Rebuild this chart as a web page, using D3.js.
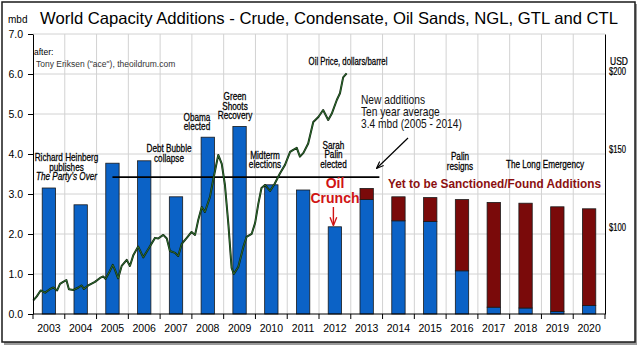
<!DOCTYPE html>
<html lang="en">
<head>
<meta charset="UTF-8">
<title>World Capacity Additions</title>
<style>
  body { margin: 0; background: #fff; }
  svg { display: block; }
  text { font-family: "Liberation Sans", Arial, sans-serif; }
</style>
</head>
<body>
<svg></svg>
<script src="https://d3js.org/d3.v7.min.js"></script>
<script>
// capacity additions, million barrels per day
const years = ["2003", "2004", "2005", "2006", "2007", "2008", "2009", "2010", "2011",
  "2012", "2013", "2014", "2015", "2016", "2017", "2018", "2019", "2020"];
const sanctioned = [3.15, 2.73, 3.77, 3.83, 2.93, 4.42, 4.69, 3.23, 3.10,
  2.18, 2.86, 2.33, 2.31, 1.08, 0.17, 0.15, 0.06, 0.21];
const yetToFind = [0, 0, 0, 0, 0, 0, 0, 0, 0,
  0, 0.28, 0.60, 0.60, 1.78, 2.62, 2.62, 2.62, 2.42];

// oil price, dollars per barrel (right axis)
const priceTime = [2003.01, 2003.12, 2003.24, 2003.38, 2003.53, 2003.64, 2003.76, 2003.85, 2003.95,
  2004.05, 2004.13, 2004.27, 2004.43, 2004.53, 2004.60, 2004.74, 2004.95, 2005.11, 2005.21,
  2005.28, 2005.42, 2005.51, 2005.58, 2005.68, 2005.79, 2005.95, 2006.05, 2006.16, 2006.31,
  2006.47, 2006.63, 2006.84, 2006.94, 2007.10, 2007.21, 2007.31, 2007.47, 2007.57, 2007.68,
  2007.84, 2007.99, 2008.10, 2008.20, 2008.31, 2008.41, 2008.57, 2008.67, 2008.83, 2008.94,
  2009.04, 2009.15, 2009.25, 2009.32, 2009.46, 2009.62, 2009.72, 2009.88, 2009.99, 2010.09,
  2010.19, 2010.30, 2010.46, 2010.61, 2010.77, 2010.93, 2011.09, 2011.19, 2011.30, 2011.40,
  2011.51, 2011.66, 2011.82, 2011.98, 2012.13, 2012.29, 2012.40, 2012.56, 2012.66, 2012.76,
  2012.87];
const priceUsd = [53.2, 55.8, 59.6, 58.2, 60.4, 61.5, 59.6, 63.8, 65.1,
  66.3, 60.3, 59.9, 61.5, 62.8, 60.6, 62.8, 65.1, 67.6, 68.6,
  67.0, 72.1, 76.0, 72.8, 67.4, 75.3, 79.2, 75.3, 82.4, 87.7,
  80.8, 86.2, 93.3, 92.9, 95.2, 92.9, 84.9, 83.7, 81.7, 89.4,
  93.3, 97.1, 95.2, 104.8, 113.1, 109.9, 119.6, 130.4, 146.5, 140.7,
  127.2, 101.6, 74.0, 70.2, 74.7, 87.5, 93.9, 95.8, 102.9, 115.1,
  125.3, 127.2, 123.4, 128.2, 134.6, 140.1, 148.4, 149.7, 151.0, 145.4,
  147.8, 153.8, 167.6, 170.8, 175.3, 168.9, 172.8, 181.7, 186.0, 196.2,
  198.8];

const mbdTicks = [0, 1, 2, 3, 4, 5, 6, 7];
const usdTicks = [100, 150, 200];

const width = 640, height = 347;
const plotLeft = 33, plotRight = 605, plotTop = 34, plotBottom = 314;

const svg = d3.select("svg").attr("width", width).attr("height", height);

svg.append("defs").selectAll("marker")
  .data([["arrowBlack", "#000"], ["arrowRed", "#d01414"]])
  .join("marker")
  .attr("id", d => d[0])
  .attr("viewBox", "0 0 10 10")
  .attr("refX", 9).attr("refY", 5)
  .attr("markerWidth", 6).attr("markerHeight", 6)
  .attr("orient", "auto")
  .append("path")
  .attr("d", "M0,1L10,5L0,9")
  .attr("fill", "none")
  .attr("stroke", d => d[1])
  .attr("stroke-width", 1.6);

// outer frame with a soft drop shadow
svg.append("rect").attr("x", 4).attr("y", 4).attr("width", 633).attr("height", 341)
  .attr("fill", "#9a9a9a");
svg.append("rect").attr("x", 2).attr("y", 2).attr("width", 633).attr("height", 340)
  .attr("fill", "#fff").attr("stroke", "#1a1a1a").attr("stroke-width", 1.5);

const x = d3.scaleBand().domain(years).range([plotLeft, plotRight]);
const xTime = d3.scaleLinear().domain([2003, 2021]).range([plotLeft, plotRight]);
const y = d3.scaleLinear().domain([0, 7]).range([plotBottom, plotTop]);
const yUsd = d3.scaleLinear().domain([44.5, 224]).range([plotBottom, plotTop]);

// grid
svg.append("g").selectAll("line").data(mbdTicks.slice(1)).join("line")
  .attr("x1", plotLeft).attr("x2", plotRight)
  .attr("y1", d => y(d)).attr("y2", d => y(d))
  .attr("stroke", "#d2d2d2");
svg.append("g").selectAll("line").data(years.slice(1)).join("line")
  .attr("x1", d => x(d)).attr("x2", d => x(d))
  .attr("y1", plotTop).attr("y2", plotBottom)
  .attr("stroke", "#d2d2d2");

// bars
const barW = x.step() * 0.42;
const barX = d => x(d) + (x.step() - barW) / 2;
const bars = svg.append("g").attr("stroke", "#1a1a1a").attr("stroke-width", 0.8);
bars.selectAll(".blue").data(years).join("rect")
  .attr("x", barX).attr("width", barW)
  .attr("y", (d, i) => y(sanctioned[i]))
  .attr("height", (d, i) => y(0) - y(sanctioned[i]))
  .attr("fill", "#0b62c6");
bars.selectAll(".red").data(years.filter((d, i) => yetToFind[i] > 0)).join("rect")
  .attr("x", barX).attr("width", barW)
  .attr("y", d => { const i = years.indexOf(d); return y(sanctioned[i] + yetToFind[i]); })
  .attr("height", d => { const i = years.indexOf(d); return y(sanctioned[i]) - y(sanctioned[i] + yetToFind[i]); })
  .attr("fill", "#7a0a0a");

// ten year average 2005 - 2014
const avgYears = years.slice(2, 12);
const avg = d3.mean(avgYears, d => { const i = years.indexOf(d); return sanctioned[i] + yetToFind[i]; });
svg.append("line")
  .attr("x1", x("2005") + x.step() / 2).attr("x2", x("2013") + x.step() * 0.9)
  .attr("y1", y(avg)).attr("y2", y(avg))
  .attr("stroke", "#000").attr("stroke-width", 1.6);

// oil price line
const priceLine = d3.line().x(d => xTime(d[0])).y(d => yUsd(d[1]));
const pricePts = priceTime.map((t, i) => [t, priceUsd[i]]);
svg.append("path").datum(pricePts).attr("d", priceLine)
  .attr("fill", "none").attr("stroke", "#0d220d").attr("stroke-width", 2)
  .attr("stroke-linejoin", "round");
svg.append("path").datum(pricePts).attr("d", priceLine)
  .attr("fill", "none").attr("stroke", "#3c8c3c").attr("stroke-width", 0.7)
  .attr("stroke-linejoin", "round");

// axes
const yAxis = svg.append("g").attr("transform", `translate(${plotLeft},0)`)
  .call(d3.axisLeft(y).tickValues(mbdTicks).tickFormat(d3.format(".1f")).tickSize(5).tickSizeOuter(0).tickPadding(5));
yAxis.selectAll("text").style("font-size", "10.5px").style("font-family", "Liberation Sans");

const usdAxis = svg.append("g").attr("transform", `translate(${plotRight},0)`)
  .call(d3.axisRight(yUsd).tickValues(usdTicks).tickFormat(d => "$" + d).tickSize(0).tickSizeOuter(0).tickPadding(4));
usdAxis.selectAll("text").style("font-size", "10px").style("font-family", "Liberation Sans")
  .style("stroke", "#000").style("stroke-width", 0.2)
  .attr("textLength", 17).attr("lengthAdjust", "spacingAndGlyphs");

svg.append("line").attr("x1", plotLeft).attr("x2", plotRight).attr("y1", plotBottom).attr("y2", plotBottom)
  .attr("stroke", "#000");
svg.append("g").selectAll("line").data(years.concat(["end"])).join("line")
  .attr("x1", d => d === "end" ? plotRight : x(d)).attr("x2", d => d === "end" ? plotRight : x(d))
  .attr("y1", plotBottom).attr("y2", plotBottom + 5).attr("stroke", "#000");
svg.append("g").selectAll("text").data(years).join("text")
  .attr("x", d => x(d) + x.step() / 2).attr("y", 332)
  .attr("text-anchor", "middle").style("font-size", "10.5px")
  .text(d => d);

// condensed text block: lines centred (or left aligned) on x, squeezed horizontally
function note(xc, yBase, lines, opts = {}) {
  const g = svg.append("g")
    .attr("transform", `translate(${xc},${yBase}) scale(${opts.sx || 0.82},1)`);
  lines.forEach((s, i) => {
    g.append("text")
      .attr("y", i * (opts.lh || 9.6))
      .attr("text-anchor", opts.anchor || "middle")
      .style("font-size", (opts.size || 10) + "px")
      .style("font-style", i === opts.italic ? "italic" : null)
      .style("fill", opts.fill || "#000")
      .style("stroke", opts.heavy === false ? null : (opts.fill || "#000"))
      .style("stroke-width", opts.heavy === false ? null : 0.25)
      .text(s);
  });
  return g;
}

// titles
svg.append("text").attr("x", 8).attr("y", 23).style("font-size", "10px").text("mbd");
svg.append("text").attr("x", 40).attr("y", 24).style("font-size", "16.5px")
  .attr("textLength", 578).attr("lengthAdjust", "spacingAndGlyphs")
  .text("World Capacity Additions - Crude, Condensate, Oil Sands, NGL, GTL and CTL");
note(plotRight + 5, 65, ["USD"], { anchor: "start", sx: 0.85 });

svg.append("text").attr("x", 34).attr("y", 55).style("font-size", "8.5px").text("after:");
svg.append("text").attr("x", 36).attr("y", 67).style("font-size", "8.5px").style("fill", "#333")
  .text("Tony Eriksen (\"ace\"), theoildrum.com");

// event notes
note(66.5, 161, ["Richard Heinberg", "publishes", "The Party's Over"], { italic: 2 });
note(169, 152, ["Debt Bubble", "collapse"]);
note(197, 120.5, ["Obama", "elected"]);
note(235, 100, ["Green", "Shoots", "Recovery"]);
note(265, 158.5, ["Midterm", "elections"]);
note(333.5, 148.5, ["Sarah", "Palin", "elected"]);
note(460, 160, ["Palin", "resigns"]);
note(545, 167.5, ["The Long Emergency"]);
note(348, 65, ["Oil Price, dollars/barrel"], { sx: 0.78 });

note(361, 104, ["New additions", "Ten year average", `${avg.toFixed(1)} mbd (2005 - 2014)`],
  { anchor: "start", size: 12, lh: 11.8, sx: 0.85, fill: "#111", heavy: false });
svg.append("line").attr("x1", 408).attr("y1", 138).attr("x2", 377).attr("y2", 168)
  .attr("stroke", "#000").attr("stroke-width", 1.2).attr("marker-end", "url(#arrowBlack)");

const crunch = svg.append("text").attr("text-anchor", "middle").style("font-size", "14px")
  .style("font-weight", "bold").style("fill", "#d01414");
crunch.append("tspan").attr("x", 335).attr("y", 188).text("Oil");
crunch.append("tspan").attr("x", 335).attr("y", 203).text("Crunch");
svg.append("line")
  .attr("x1", x("2012") + x.step() / 2 - 1.5).attr("x2", x("2012") + x.step() / 2 - 1.5)
  .attr("y1", 207).attr("y2", y(sanctioned[9]) - 2)
  .attr("stroke", "#d01414").attr("stroke-width", 1.4).attr("marker-end", "url(#arrowRed)");

svg.append("text").attr("x", 494.5).attr("y", 187.5).attr("text-anchor", "middle")
  .style("font-size", "12px").style("font-weight", "bold").style("fill", "#8b1010")
  .attr("textLength", 213).attr("lengthAdjust", "spacingAndGlyphs")
  .text("Yet to be Sanctioned/Found Additions");
</script>
</body>
</html>
